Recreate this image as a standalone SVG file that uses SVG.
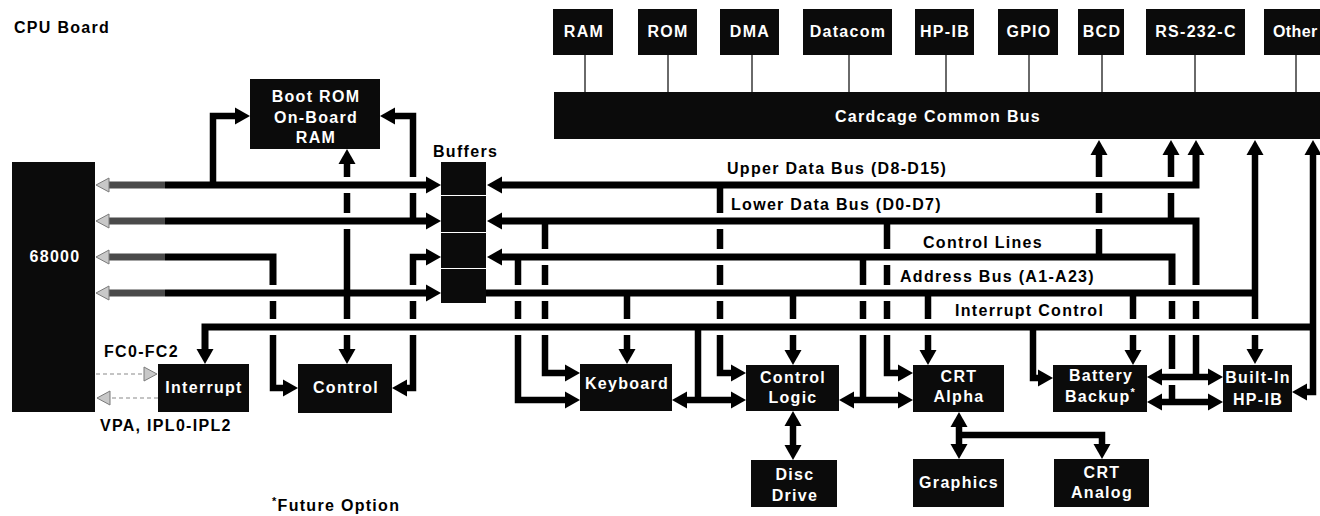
<svg xmlns="http://www.w3.org/2000/svg" width="1320" height="516" viewBox="0 0 1320 516">
<defs>
<style>
.box{fill:#0b0b0b}
.t{font-family:"Liberation Sans",Arial,Helvetica,sans-serif;font-weight:bold;font-size:16px;letter-spacing:1.3px}
.w{fill:#fff;text-anchor:middle}
.k{fill:#000}
.ln{fill:none;stroke:#000;stroke-width:6.5;stroke-linejoin:miter;stroke-linecap:butt}
.bus{fill:none;stroke:#000;stroke-width:7;stroke-linejoin:miter;stroke-linecap:butt}
.gy{fill:none;stroke:#4a4a4a;stroke-width:7}
.thin{fill:none;stroke:#3a3a3a;stroke-width:1.5}
.dash{fill:none;stroke:#8a8a8a;stroke-width:1.2;stroke-dasharray:4 3}
.ga{fill:#c8c8c8;stroke:#7a7a7a;stroke-width:1}
.ah{fill:#000}
</style>
<path id="ah" d="M0,0 L-15,-8.5 L-15,8.5 Z"/>
<path id="gah" d="M0,0 L-13,-7 L-13,7 Z"/>
</defs>
<rect width="1320" height="516" fill="#fff"/>
<text class="t k" x="14" y="33">CPU Board</text>

<g id="connectors">
  <path class="thin" d="M585,55 V92 M668,55 V92 M752,55 V92 M849,55 V92 M946,55 V92 M1029,55 V92 M1102,55 V92 M1195,55 V92 M1296,55 V92"/>
  <path class="gy" d="M108,185 H165 M108,221 H165 M108,257 H165 M108,293 H165"/>
  <path class="bus" d="M165,185 H426 M165,221 H426 M165,293 H426"/>
  <path class="bus" d="M165,257 H273 V285"/>
  <use href="#gah" class="ga" transform="translate(96,185) rotate(180)"/>
  <use href="#gah" class="ga" transform="translate(96,221) rotate(180)"/>
  <use href="#gah" class="ga" transform="translate(96,257) rotate(180)"/>
  <use href="#gah" class="ga" transform="translate(96,293) rotate(180)"/>
  <use href="#ah" class="ah" transform="translate(441,185)"/>
  <use href="#ah" class="ah" transform="translate(441,221)"/>
  <use href="#ah" class="ah" transform="translate(441,257)"/>
  <use href="#ah" class="ah" transform="translate(441,293)"/>
  <path class="ln" d="M213,185 V116 H236"/>
  <use href="#ah" class="ah" transform="translate(250,116)"/>
  <path class="ln" d="M413,221 V193 M413,177 V116 H395"/>
  <use href="#ah" class="ah" transform="translate(380,116) rotate(180)"/>
  <path class="ln" d="M347,164 V177 M347,193 V213 M347,229 V319 M347,335 V349"/>
  <use href="#ah" class="ah" transform="translate(347,149) rotate(-90)"/>
  <use href="#ah" class="ah" transform="translate(347,364) rotate(90)"/>
  <path class="ln" d="M273,301 V319 M273,335 V388 H283"/>
  <use href="#ah" class="ah" transform="translate(298,388)"/>
  <path class="ln" d="M413,285 V257 H426 M413,301 V319 M413,335 V388 H407"/>
  <use href="#ah" class="ah" transform="translate(392,388) rotate(180)"/>
  <path class="bus" d="M1313,327 H205 V349"/>
  <use href="#ah" class="ah" transform="translate(205,364) rotate(90)"/>
  <path class="dash" d="M96,374 H144"/>
  <use href="#gah" class="ga" transform="translate(157,374)"/>
  <path class="dash" d="M158,398 H110"/>
  <use href="#gah" class="ga" transform="translate(97,398) rotate(180)"/>
  <path class="bus" d="M502,185 H1196 V155"/>
  <use href="#ah" class="ah" transform="translate(487,185) rotate(180)"/>
  <use href="#ah" class="ah" transform="translate(1196,140) rotate(-90)"/>
  <path class="bus" d="M502,221 H1196 V285"/>
  <path class="ln" d="M1196,301 V319 M1196,335 V377"/>
  <use href="#ah" class="ah" transform="translate(487,221) rotate(180)"/>
  <path class="bus" d="M502,257 H1172 V285"/>
  <path class="ln" d="M1172,301 V319 M1172,335 V369 M1172,385 V402"/>
  <use href="#ah" class="ah" transform="translate(487,257) rotate(180)"/>
  <path class="bus" d="M486,293 H1255"/>
  <path class="ln" d="M1255,293 V155"/>
  <use href="#ah" class="ah" transform="translate(1255,140) rotate(-90)"/>
  <path class="ln" d="M1255,293 V319 M1255,335 V349"/>
  <use href="#ah" class="ah" transform="translate(1255,364) rotate(90)"/>
  <path class="ln" d="M1313,327 V155"/>
  <use href="#ah" class="ah" transform="translate(1313,140) rotate(-90)"/>
  <path class="ln" d="M1313,327 V392 H1307"/>
  <use href="#ah" class="ah" transform="translate(1292,392) rotate(180)"/>
  <path class="ln" d="M1099,257 V229 M1099,213 V193 M1099,177 V155"/>
  <use href="#ah" class="ah" transform="translate(1099,140) rotate(-90)"/>
  <path class="ln" d="M1171,221 V193 M1171,177 V155"/>
  <use href="#ah" class="ah" transform="translate(1171,140) rotate(-90)"/>
  <path class="ln" d="M1162,377 H1208 M1162,402 H1208"/>
  <use href="#ah" class="ah" transform="translate(1147,377) rotate(180)"/>
  <use href="#ah" class="ah" transform="translate(1223,377)"/>
  <use href="#ah" class="ah" transform="translate(1147,402) rotate(180)"/>
  <use href="#ah" class="ah" transform="translate(1223,402)"/>
  <path class="ln" d="M545,221 V249 M545,265 V285 M545,301 V319 M545,335 V373 H565"/>
  <use href="#ah" class="ah" transform="translate(580,373)"/>
  <path class="ln" d="M518,257 V285 M518,301 V319 M518,335 V400 H565"/>
  <use href="#ah" class="ah" transform="translate(580,400)"/>
  <path class="ln" d="M627,293 V319 M627,335 V349"/>
  <use href="#ah" class="ah" transform="translate(627,364) rotate(90)"/>
  <path class="ln" d="M698,327 V400 M687,400 H731"/>
  <use href="#ah" class="ah" transform="translate(672,400) rotate(180)"/>
  <use href="#ah" class="ah" transform="translate(746,400)"/>
  <path class="ln" d="M720,185 V213 M720,229 V249 M720,265 V285 M720,301 V319 M720,335 V373 H731"/>
  <use href="#ah" class="ah" transform="translate(746,373)"/>
  <path class="ln" d="M793,293 V319 M793,335 V350"/>
  <use href="#ah" class="ah" transform="translate(793,365) rotate(90)"/>
  <path class="ln" d="M863,257 V285 M863,301 V319 M863,335 V400 M854,400 H898"/>
  <use href="#ah" class="ah" transform="translate(839,400) rotate(180)"/>
  <use href="#ah" class="ah" transform="translate(913,400)"/>
  <path class="ln" d="M887,221 V249 M887,265 V285 M887,301 V319 M887,335 V373 H898"/>
  <use href="#ah" class="ah" transform="translate(913,373)"/>
  <path class="ln" d="M928,293 V319 M928,335 V350"/>
  <use href="#ah" class="ah" transform="translate(928,365) rotate(90)"/>
  <path class="ln" d="M1033,327 V378 H1038"/>
  <use href="#ah" class="ah" transform="translate(1053,378)"/>
  <path class="ln" d="M1133,293 V319 M1133,335 V350"/>
  <use href="#ah" class="ah" transform="translate(1133,365) rotate(90)"/>
  <path class="ln" d="M793,426 V445"/>
  <use href="#ah" class="ah" transform="translate(793,411) rotate(-90)"/>
  <use href="#ah" class="ah" transform="translate(793,460) rotate(90)"/>
  <path class="ln" d="M959,427 V444 M959,435 H1102 V444"/>
  <use href="#ah" class="ah" transform="translate(959,412) rotate(-90)"/>
  <use href="#ah" class="ah" transform="translate(959,459) rotate(90)"/>
  <use href="#ah" class="ah" transform="translate(1102,459) rotate(90)"/>
</g>

<g id="cpu68000"><rect class="box" x="12" y="162" width="83" height="250"/><text class="t w" x="55" y="262">68000</text></g>
<g id="bootrom"><rect class="box" x="250" y="79" width="130" height="70"/><text class="t w" x="316" y="102">Boot ROM</text><text class="t w" x="316" y="123">On-Board</text><text class="t w" x="316" y="143">RAM</text></g>
<g id="buffers"><text class="t k" x="433" y="157">Buffers</text>
<rect class="box" x="441" y="162" width="45" height="33"/><rect class="box" x="441" y="196" width="45" height="36"/><rect class="box" x="441" y="233" width="45" height="35"/><rect class="box" x="441" y="269" width="45" height="34"/></g>
<g id="interrupt"><rect class="box" x="158" y="364" width="91" height="48"/><text class="t w" x="204" y="393">Interrupt</text></g>
<g id="control"><rect class="box" x="298" y="364" width="94" height="49"/><text class="t w" x="346" y="393">Control</text></g>
<g id="labels-left"><text class="t k" x="104" y="357">FC0-FC2</text><text class="t k" x="100" y="431">VPA, IPL0-IPL2</text>
<text class="t k" x="272" y="511"><tspan font-size="11" dy="-6">*</tspan><tspan dy="6">Future Option</tspan></text></g>

<g id="cardcage"><rect class="box" x="554" y="92" width="770" height="47"/><text class="t w" x="938" y="122">Cardcage Common Bus</text></g>
<g id="mod-ram"><rect class="box" x="553" y="9" width="60" height="46"/><text class="t w" x="584" y="37">RAM</text></g>
<g id="mod-rom"><rect class="box" x="638" y="9" width="59" height="46"/><text class="t w" x="668" y="37">ROM</text></g>
<g id="mod-dma"><rect class="box" x="720" y="9" width="59" height="46"/><text class="t w" x="750" y="37">DMA</text></g>
<g id="mod-datacom"><rect class="box" x="803" y="9" width="89" height="46"/><text class="t w" x="848" y="37">Datacom</text></g>
<g id="mod-hpib"><rect class="box" x="915" y="9" width="59" height="46"/><text class="t w" x="945" y="37">HP-IB</text></g>
<g id="mod-gpio"><rect class="box" x="998" y="9" width="60" height="46"/><text class="t w" x="1029" y="37">GPIO</text></g>
<g id="mod-bcd"><rect class="box" x="1078" y="9" width="46" height="46"/><text class="t w" x="1102" y="37">BCD</text></g>
<g id="mod-rs232"><rect class="box" x="1146" y="9" width="99" height="46"/><text class="t w" x="1196" y="37">RS-232-C</text></g>
<g id="mod-other"><rect class="box" x="1264" y="9" width="70" height="46"/><text class="t" x="1273" y="37" fill="#fff" style="letter-spacing:0.4px">Other</text></g>

<g id="bus-labels">
<text class="t k" x="727" y="174">Upper Data Bus (D8-D15)</text>
<text class="t k" x="731" y="210">Lower Data Bus (D0-D7)</text>
<text class="t k" x="923" y="248">Control Lines</text>
<text class="t k" x="900" y="282">Address Bus (A1-A23)</text>
<text class="t k" x="955" y="316">Interrupt Control</text>
</g>

<g id="keyboard"><rect class="box" x="580" y="364" width="92" height="47"/><text class="t w" x="627" y="389">Keyboard</text></g>
<g id="controllogic"><rect class="box" x="746" y="365" width="93" height="46"/><text class="t w" x="793" y="383">Control</text><text class="t w" x="793" y="403">Logic</text></g>
<g id="discdrive"><rect class="box" x="751" y="460" width="86" height="47"/><text class="t w" x="795" y="480">Disc</text><text class="t w" x="795" y="501">Drive</text></g>
<g id="crtalpha"><rect class="box" x="913" y="365" width="91" height="47"/><text class="t w" x="959" y="382">CRT</text><text class="t w" x="959" y="402">Alpha</text></g>
<g id="graphics"><rect class="box" x="913" y="459" width="91" height="48"/><text class="t w" x="959" y="488">Graphics</text></g>
<g id="crtanalog"><rect class="box" x="1054" y="459" width="95" height="48"/><text class="t w" x="1102" y="478">CRT</text><text class="t w" x="1102" y="498">Analog</text></g>
<g id="battery"><rect class="box" x="1053" y="365" width="94" height="47"/><text class="t w" x="1101" y="381">Battery</text><text class="t" x="1065" y="402" fill="#fff">Backup<tspan font-size="11" dy="-6">*</tspan></text></g>
<g id="builtin"><rect class="box" x="1223" y="365" width="69" height="47"/><text class="t w" x="1258" y="383">Built-In</text><text class="t w" x="1258" y="405">HP-IB</text></g>
</svg>
